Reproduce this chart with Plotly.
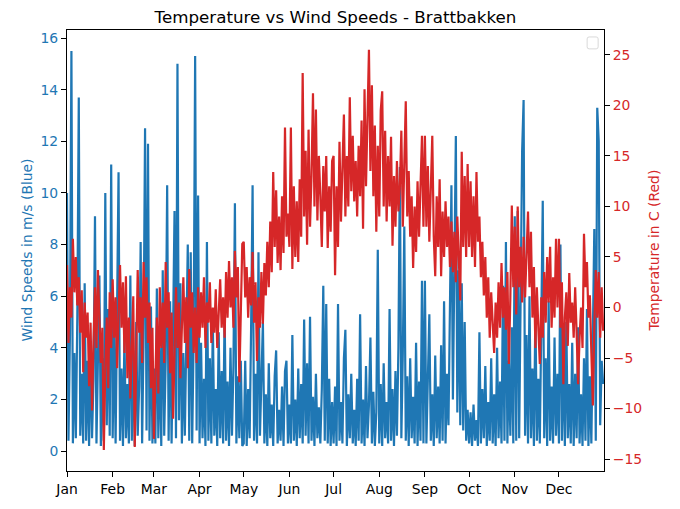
import pandas as pd
import plotly.graph_objects as go

# ---- data (daily values) ----
month_labels = ["Jan", "Feb", "Mar", "Apr", "May", "Jun",
                "Jul", "Aug", "Sep", "Oct", "Nov", "Dec"]

wind_jan = [10.0, 0.4, 4.5, 15.5, 0.3, 3.8, 0.5, 5.2, 13.7, 0.6, 3.0, 0.3, 6.5, 0.4, 3.5, 0.2,
            4.2, 0.5, 2.8, 9.1, 0.3, 4.0, 6.8, 0.2, 3.6, 0.4, 10.0, 1.0, 5.5, 0.6, 11.1]
wind_feb = [0.5, 4.8, 0.3, 6.0, 10.8, 0.4, 3.2, 0.2, 4.5, 0.5, 2.6, 0.3, 6.8, 0.4, 3.9, 0.2,
            5.0, 0.6, 2.5, 8.1, 0.3, 4.4, 12.5, 0.8, 11.9, 0.4, 5.6, 0.3]
wind_mar = [3.2, 0.3, 6.3, 0.5, 4.0, 0.2, 7.0, 0.6, 3.5, 10.3, 0.4, 5.8, 0.3, 4.6, 9.3, 0.5,
            15.0, 1.2, 6.5, 0.3, 3.8, 0.6, 5.2, 8.0, 0.4, 7.7, 0.3, 4.5, 15.3, 0.8, 9.9]
wind_apr = [0.3, 4.2, 0.5, 2.8, 0.2, 8.1, 0.4, 3.6, 0.3, 5.0, 0.6, 2.4, 0.2, 4.6, 0.5, 3.1,
            0.3, 5.4, 0.4, 2.7, 0.2, 4.0, 0.6, 3.3, 9.6, 0.3, 2.9, 0.5, 3.5, 0.2]
wind_may = [0.3, 3.5, 0.2, 2.4, 0.5, 4.8, 10.3, 0.4, 3.0, 0.3, 7.7, 0.6, 2.6, 5.0, 0.3, 2.2,
            0.2, 3.4, 0.5, 1.8, 0.2, 2.9, 3.9, 0.3, 1.6, 0.4, 2.5, 0.2, 3.1, 3.5, 0.3]
wind_jun = [1.8, 0.3, 4.5, 0.4, 2.0, 0.2, 3.2, 0.5, 2.6, 0.3, 5.1, 0.6, 3.4, 0.3, 5.2, 0.4,
            2.1, 0.2, 3.0, 0.5, 1.7, 0.3, 2.4, 6.4, 0.4, 5.7, 0.3, 2.8, 0.2, 1.9]
wind_jul = [0.3, 2.5, 0.2, 5.7, 0.4, 1.9, 0.3, 3.6, 4.7, 0.2, 2.2, 0.5, 3.0, 0.3, 1.6, 0.2,
            2.8, 0.4, 5.3, 0.3, 2.0, 0.2, 3.3, 0.5, 1.8, 4.4, 0.3, 2.3, 0.2, 1.5, 7.8]
wind_aug = [0.3, 2.6, 0.2, 3.4, 0.5, 1.9, 0.3, 5.5, 0.4, 2.4, 0.2, 3.1, 0.6, 4.0, 11.0, 0.5,
            3.8, 8.7, 0.4, 2.9, 0.2, 3.6, 0.5, 2.1, 0.3, 4.2, 0.2, 2.7, 0.4, 6.6, 0.3]
wind_sep = [6.6, 0.3, 2.8, 5.3, 0.4, 2.2, 0.2, 3.7, 0.5, 2.5, 0.3, 4.1, 0.4, 5.8, 0.3, 3.0,
            1.0, 6.8, 10.3, 2.0, 7.2, 12.2, 1.5, 7.0, 1.0, 6.5, 0.8, 5.0, 0.4, 1.6]
wind_oct = [0.3, 1.5, 0.2, 1.8, 0.4, 1.2, 0.2, 4.6, 0.3, 2.4, 0.5, 3.3, 0.2, 1.9, 0.4, 3.6,
            0.3, 2.2, 0.2, 4.0, 0.5, 2.7, 0.3, 6.4, 0.4, 8.1, 0.3, 3.5, 0.6, 4.8, 0.3]
wind_nov = [9.1, 0.4, 9.3, 0.5, 5.2, 11.6, 13.6, 0.6, 4.5, 0.3, 6.0, 0.5, 3.2, 0.2, 5.5, 0.4,
            2.8, 0.3, 4.9, 9.7, 0.5, 3.6, 0.2, 5.8, 0.4, 2.5, 0.3, 4.4, 0.6, 3.0]
wind_dec = [0.3, 8.0, 0.4, 3.8, 0.2, 5.0, 0.5, 2.6, 0.3, 4.2, 0.2, 3.0, 0.5, 4.8, 0.3, 2.2,
            0.2, 3.6, 0.4, 5.5, 0.2, 2.9, 0.3, 4.6, 8.6, 0.4, 13.3, 12.0, 1.0, 3.5, 2.6]

temp_jan = [4.2, -3.5, 2.0, -1.0, 6.8, 1.5, 5.0, 0.2, 3.0, -2.5, 1.7, -6.4, 0.5, -3.0, -0.5, -7.8,
            -1.5, -10.2, -3.5, 2.0, -4.0, 3.7, -1.0, -5.5, -2.0, -14.1, -6.0, -1.0, -8.0, 1.5, -4.0]
temp_feb = [2.8, -3.0, 1.0, -6.0, 0.0, 4.2, -2.0, 2.5, -4.5, 3.1, -7.0, -1.0, -9.0, -3.0, 1.1, -13.8,
            -5.0, 3.7, -2.5, 1.0, -5.5, 4.5, -1.0, 3.0, -3.5, 0.5, -8.0, -2.0]
temp_mar = [-13.0, -6.0, -1.0, -8.5, 2.0, -4.0, 0.5, -5.5, 4.5, -2.0, 1.5, -6.5, -0.5, -11.0, -3.5, 2.0,
            -4.0, 0.5, -7.0, -1.5, 3.0, -3.5, 1.0, -6.0, 3.8, -2.0, 1.5, -4.5, 0.0, -5.5, 2.0]
temp_apr = [-3.0, 1.5, -2.0, 3.0, -4.0, 0.5, -1.5, 2.5, -3.5, 0.0, -2.5, 1.8, -4.0, -0.5, 2.8, -2.0,
            1.0, -3.0, 3.5, -1.0, 4.6, 0.0, 3.0, -2.0, 5.6, 1.0, 4.0, -7.4, 1.0, 6.3]
temp_may = [6.5, 1.0, 4.0, -1.0, 3.0, 0.2, 5.5, -1.5, 2.5, -5.3, 1.0, -2.0, 3.5, -1.6, 4.4, 1.2,
            6.5, 2.0, 8.5, 3.5, 13.4, 6.0, 11.6, 4.4, 9.0, 3.7, 11.0, 5.4, 17.8, 7.0, 9.3]
temp_jun = [6.0, 17.8, 3.8, 12.0, 5.0, 10.5, 4.5, 12.7, 7.0, 23.2, 9.0, 15.5, 6.2, 17.6, 8.0, 13.0,
            21.2, 10.0, 19.6, 8.6, 15.0, 11.0, 6.0, 14.0, 9.5, 15.0, 5.9, 12.0, 7.5, 14.5]
temp_jul = [15.0, 3.2, 12.0, 6.0, 16.4, 8.5, 13.0, 19.1, 9.0, 15.0, 10.0, 20.8, 11.5, 17.0, 10.5, 14.5,
            9.0, 16.0, 11.0, 18.5, 7.8, 21.6, 12.0, 19.0, 25.5, 13.5, 22.0, 11.0, 18.0, 7.5, 16.0]
temp_aug = [9.0, 19.5, 21.4, 10.0, 17.5, 8.5, 15.0, 10.0, 16.9, 6.1, 13.0, 8.0, 14.5, 9.5, 12.0, 17.5,
            8.0, 14.0, 20.4, 9.0, 13.5, 7.0, 11.0, 3.9, 10.0, 5.5, 12.5, 7.0, 13.0, 17.0, 8.0]
temp_sep = [17.0, 8.0, 14.0, 6.5, 12.0, 17.0, 7.0, 3.1, 11.0, 6.0, 12.7, 3.1, 9.5, 5.0, 10.5, 6.0,
            9.0, 4.0, 8.5, 3.5, 7.5, 2.5, 9.0, 4.5, 0.7, 15.4, 6.0, 13.0, 5.0, 14.2]
temp_oct = [6.0, 12.5, 5.0, 11.0, 4.0, 13.4, 6.5, 9.0, 3.0, 6.5, 1.2, 5.0, -1.0, 3.0, -3.0, 1.5,
            -2.0, -4.5, 0.5, -3.0, 2.5, -2.0, 4.4, -1.0, 2.0, -2.2, 3.5, -5.6, 1.0, 10.1, 2.0]
temp_nov = [8.0, -0.7, 10.0, 2.0, 6.0, 0.5, 7.0, 1.0, 4.5, 9.5, 2.0, 7.5, -1.0, 4.0, -4.0, 2.0,
            -2.0, -5.6, 1.0, -3.0, 3.5, -1.5, 5.0, 0.5, 6.0, -2.0, 3.0, -1.0, 6.8, 0.0]
temp_dec = [6.8, -2.0, 2.5, -7.6, -1.0, 1.5, -3.8, 3.4, -1.5, 0.5, -3.0, 2.0, -2.5, -7.6, -3.0, 0.0,
            -4.0, 7.3, 2.0, 4.5, -1.0, 1.2, -4.5, -9.7, -2.0, 3.7, -1.0, 3.5, -3.0, 2.0, -2.3]

wind_speed = (wind_jan + wind_feb + wind_mar + wind_apr + wind_may + wind_jun +
              wind_jul + wind_aug + wind_sep + wind_oct + wind_nov + wind_dec)
temperature = (temp_jan + temp_feb + temp_mar + temp_apr + temp_may + temp_jun +
               temp_jul + temp_aug + temp_sep + temp_oct + temp_nov + temp_dec)

dates = pd.date_range("2022-01-01", periods=len(wind_speed), freq="D")
month_starts = pd.date_range("2022-01-01", periods=12, freq="MS")

BLUE = "#1f77b4"
RED = "#d62728"
FONT = "DejaVu Sans"

fig = go.Figure()
fig.add_trace(go.Scatter(x=dates, y=wind_speed, mode="lines",
                         line=dict(color=BLUE, width=2.2), yaxis="y", showlegend=False))
fig.add_trace(go.Scatter(x=dates, y=temperature, mode="lines",
                         line=dict(color=RED, width=2.2), yaxis="y2", showlegend=False))

fig.update_layout(
    width=680, height=509,
    margin=dict(l=67, r=76, t=30, b=35),
    paper_bgcolor="white", plot_bgcolor="white",
    font=dict(family=FONT, size=13.9, color="black"),
    showlegend=False,
    title=dict(text="Temperature vs Wind Speeds - Brattbakken",
               font=dict(family=FONT, size=16.7, color="black"),
               x=0.5, xref="paper", xanchor="center",
               y=1 - 17 / 509, yref="container", yanchor="middle"),
    xaxis=dict(
        type="date",
        range=["2022-01-01", "2022-12-31 14:00"],
        tickvals=month_starts, ticktext=month_labels,
        ticks="outside", ticklen=5, tickwidth=1, tickcolor="black",
        showline=True, linecolor="black", linewidth=1, mirror=True,
        showgrid=False, zeroline=False,
        tickfont=dict(family=FONT, size=13.9, color="black"),
    ),
    yaxis=dict(
        range=[-0.77, 16.31],
        tickvals=list(range(0, 17, 2)),
        ticks="outside", ticklen=5, tickwidth=1, tickcolor="black",
        showline=True, linecolor="black", linewidth=1,
        showgrid=False, zeroline=False,
        tickfont=dict(family=FONT, size=13.9, color=BLUE),
    ),
    yaxis2=dict(
        range=[-16.18, 27.46],
        tickvals=list(range(-15, 26, 5)),
        overlaying="y", side="right", anchor="x",
        ticks="outside", ticklen=5, tickwidth=1, tickcolor="black",
        showline=True, linecolor="black", linewidth=1,
        showgrid=False, zeroline=False,
        tickfont=dict(family=FONT, size=13.9, color=RED),
    ),
    annotations=[
        dict(text="Wind Speeds in m/s (Blue)", textangle=-90,
             x=(26 - 67) / 537, y=0.5, xref="paper", yref="paper",
             xanchor="center", yanchor="middle", showarrow=False,
             font=dict(family=FONT, size=13.9, color=BLUE)),
        dict(text="Temperature in C (Red)", textangle=-90,
             x=(653 - 67) / 537, y=0.5, xref="paper", yref="paper",
             xanchor="center", yanchor="middle", showarrow=False,
             font=dict(family=FONT, size=13.9, color=RED)),
    ],
    shapes=[
        # empty legend frame (top right)
        dict(type="path", xref="paper", yref="paper",
             path="M 0.9723,0.9842 L 0.9854,0.9842 Q 0.9891,0.9842 0.9891,0.9797 "
                  "L 0.9891,0.9617 Q 0.9891,0.9572 0.9854,0.9572 L 0.9723,0.9572 "
                  "Q 0.9686,0.9572 0.9686,0.9617 L 0.9686,0.9797 Q 0.9686,0.9842 0.9723,0.9842 Z",
             line=dict(color="#d9d9d9", width=1), fillcolor="rgba(255,255,255,0.8)"),
    ],
)

fig.write_html("out.html",
               config={"displayModeBar": False},
               post_script="document.body.style.margin='0px';")
